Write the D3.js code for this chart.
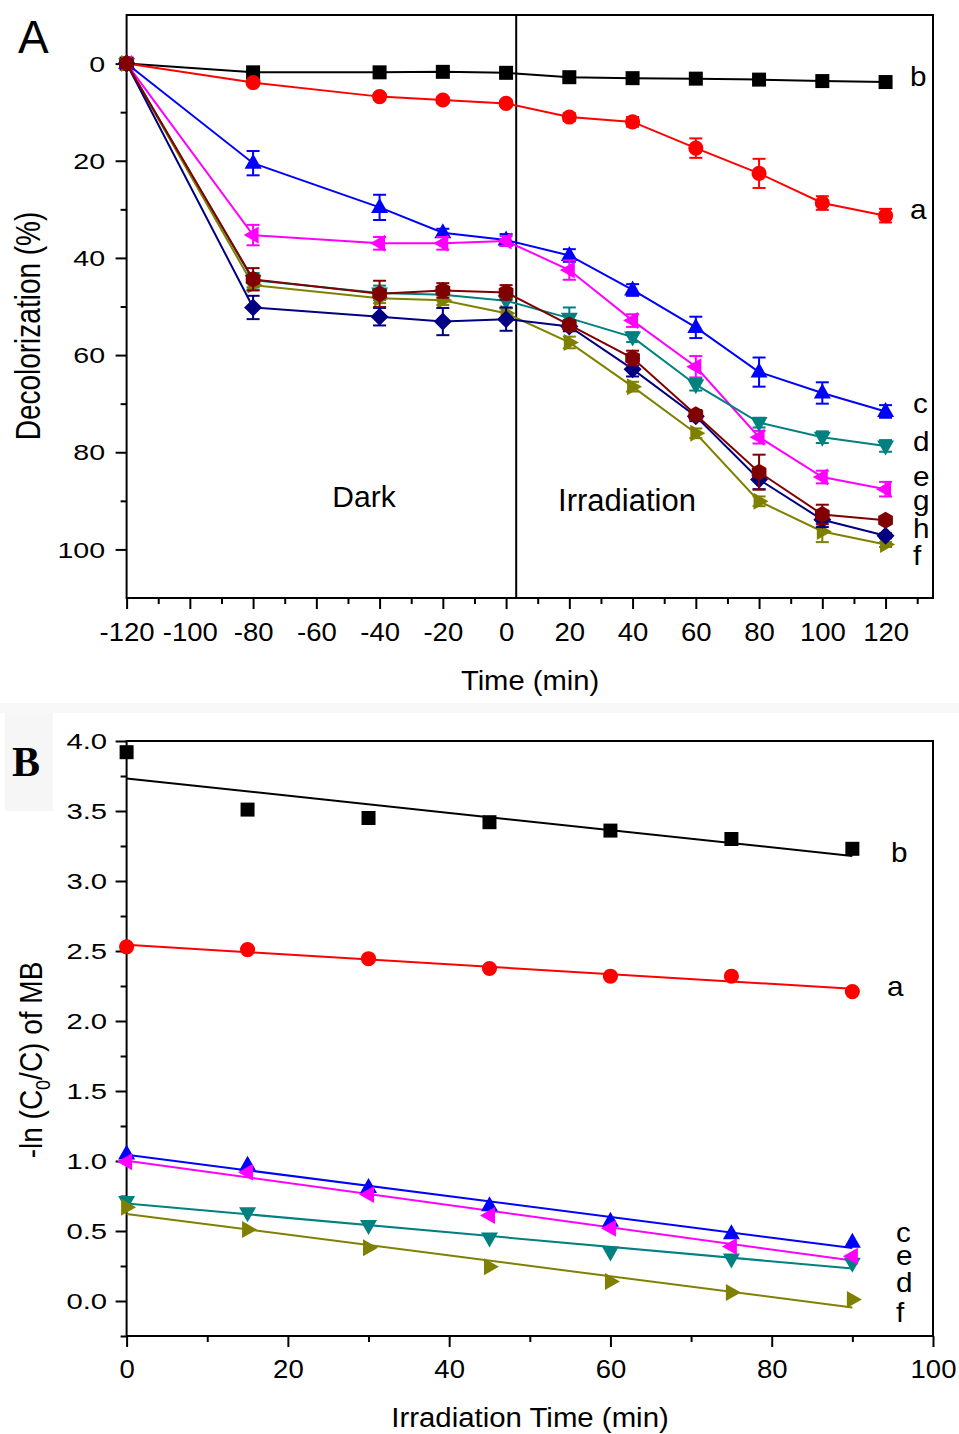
<!DOCTYPE html>
<html>
<head>
<meta charset="utf-8">
<script src="https://cdn.jsdelivr.net/npm/d3@7"></script>
<style>
  body { margin: 0; background: #fff; }
  svg { display: block; font-family: Arial, "Liberation Sans", sans-serif; }
</style>
</head>
<body>
<div id="chart"></div>
<script>
// ---- panel A: decolorization (%) against time (min)
var timeA = [-120, -80, -40, -20, 0, 20, 40, 60, 80, 100, 120];

var decolA = [0, 3.9, 6.8, 7.5, 8.2, 11.0, 12.0, 17.4, 22.6, 28.7, 31.3];
var decolB = [0, 1.8, 1.8, 1.7, 1.9, 2.8, 3.0, 3.1, 3.3, 3.6, 3.8];
var decolC = [0, 20.5, 29.6, 34.8, 36.3, 39.5, 46.6, 54.3, 63.5, 67.8, 71.6];
var decolD = [0, 44.6, 47.2, 47.6, 48.8, 52.4, 56.3, 66.1, 73.9, 76.9, 78.7];
var decolE = [0, 35.3, 37.0, 37.0, 36.5, 42.5, 52.9, 62.4, 76.9, 85.1, 87.6];
var decolF = [0, 45.6, 48.3, 48.7, 51.4, 57.4, 66.5, 76.1, 90.1, 96.3, 99.0];
var decolG = [0, 44.4, 47.4, 46.7, 47.1, 53.8, 60.6, 72.3, 84.1, 92.8, 94.0];
var decolH = [0, 50.2, 52.1, 53.1, 52.6, 54.1, 62.9, 72.6, 85.6, 93.9, 97.2];

// error bar half widths
var errA = [0, 0.6, 0.6, 0.6, 0.6, 0.8, 1.0, 2.0, 3.0, 1.4, 1.4];
var errB = [0, 0.3, 0.3, 0.3, 0.3, 0.3, 0.3, 0.3, 0.3, 0.3, 0.3];
var errC = [0, 2.5, 2.6, 0.8, 1.2, 1.3, 1.2, 2.2, 3.0, 2.2, 1.3];
var errD = [0, 1.5, 1.5, 1.2, 1.5, 2.2, 1.0, 1.2, 1.0, 1.2, 1.2];
var errE = [0, 2.1, 1.3, 1.3, 1.0, 2.0, 1.3, 2.2, 1.3, 1.3, 1.5];
var errF = [0, 1.0, 1.0, 1.0, 1.0, 1.2, 1.0, 1.0, 1.0, 2.2, 0.5];
var errG = [0, 2.3, 2.7, 1.5, 1.5, 1.0, 1.5, 1.0, 3.6, 2.0, 0.5];
var errH = [0, 2.4, 1.8, 2.8, 2.4, 1.0, 1.5, 1.0, 2.0, 1.5, 0.5];

var ticksXA = [-120, -100, -80, -60, -40, -20, 0, 20, 40, 60, 80, 100, 120];
var ticksYA = [0, 20, 40, 60, 80, 100];

// ---- panel B: -ln(C0/C) against irradiation time (min)
var timeB = [0, 15, 30, 45, 60, 75, 90];
var lnA = [2.53, 2.51, 2.445, 2.375, 2.32, 2.32, 2.21];
var lnB = [3.92, 3.51, 3.45, 3.42, 3.36, 3.30, 3.23];
var lnC = [1.05, 0.97, 0.81, 0.68, 0.57, 0.48, 0.42];
var lnD = [0.71, 0.63, 0.54, 0.45, 0.35, 0.30, 0.27];
var lnE = [0.995, 0.92, 0.76, 0.61, 0.52, 0.39, 0.32];
var lnF = [0.67, 0.51, 0.38, 0.245, 0.14, 0.06, 0.01];

var ticksXB = [0, 20, 40, 60, 80, 100];
var ticksYB = [0, 0.5, 1, 1.5, 2, 2.5, 3, 3.5, 4];

var W = 959, H = 1434;

var svg = d3.select("#chart").append("svg")
  .attr("width", W)
  .attr("height", H);

// marker shapes centred on 0,0
function hexagon(r) {
  var pts = d3.range(6).map(function(i) {
    var a = Math.PI / 6 + i * Math.PI / 3;
    return [r * Math.cos(a), r * Math.sin(a)];
  });
  return "M" + pts.join("L") + "Z";
}
var shapes = {
  square: "M-7,-7H7V7H-7Z",
  circle: d3.symbol(d3.symbolCircle, 180)(),
  up: "M0,-9.5L8.5,5.5L-8.5,5.5Z",
  down: "M0,9.5L8.5,-5.5L-8.5,-5.5Z",
  left: "M-9.5,0L5.5,-8.5L5.5,8.5Z",
  right: "M9.5,0L-5.5,-8.5L-5.5,8.5Z",
  diamond: "M0,-9L9,0L0,9L-9,0Z",
  hexagon: hexagon(8.5)
};

// text with a horizontal stretch, like the original figure
function label(g, x, y, str, size, sx, anchor) {
  return g.append("text")
    .attr("transform", "translate(" + x + "," + y + ") scale(" + sx + ",1)")
    .attr("font-size", size)
    .attr("text-anchor", anchor || "start")
    .attr("fill", "#000")
    .text(str);
}

function styleAxis(g, size, sx, off, horizontal) {
  g.select(".domain").remove();
  g.attr("font-family", null).attr("font-size", null);
  g.selectAll(".tick line").attr("stroke", "#000").attr("stroke-width", 2);
  var t = g.selectAll(".tick text")
    .attr("font-size", size)
    .attr("fill", "#000");
  if (horizontal) {
    t.attr("y", 0).attr("dy", "0.71em")
      .attr("transform", "translate(0," + off + ") scale(" + sx + ",1)");
  } else {
    t.attr("x", 0).attr("dy", "0.35em")
      .attr("transform", "translate(" + (-off) + ",0) scale(" + sx + ",1)");
  }
}

/* ================= PANEL A ================= */
var xA = d3.scaleLinear().domain([-120, 135]).range([126.6, 933]);
var yA = d3.scaleLinear().domain([-10, 110]).range([15, 598]);

var seriesA = [
  {key: "b", vals: decolB, err: errB, color: "#000000", shape: "square"},
  {key: "a", vals: decolA, err: errA, color: "#ff0000", shape: "circle"},
  {key: "c", vals: decolC, err: errC, color: "#0000ff", shape: "up"},
  {key: "e", vals: decolE, err: errE, color: "#ff00ff", shape: "left"},
  {key: "d", vals: decolD, err: errD, color: "#008080", shape: "down"},
  {key: "f", vals: decolF, err: errF, color: "#808000", shape: "right"},
  {key: "h", vals: decolH, err: errH, color: "#000080", shape: "diamond"},
  {key: "g", vals: decolG, err: errG, color: "#800000", shape: "hexagon"}
];

// axes
svg.append("g")
  .attr("transform", "translate(0,598)")
  .call(d3.axisBottom(xA).tickValues(d3.range(-110, 131, 20)).tickSize(6).tickFormat(""))
  .call(styleAxis, 25, 1.1, 25, true);
svg.append("g")
  .attr("transform", "translate(0,598)")
  .call(d3.axisBottom(xA).tickValues(ticksXA).tickSize(11).tickFormat(function(d) { return String(d); }))
  .call(styleAxis, 25, 1.1, 25, true);

svg.append("g")
  .attr("transform", "translate(126.6,0)")
  .call(d3.axisLeft(yA).tickValues(d3.range(10, 100, 20)).tickSize(6).tickFormat(""))
  .call(styleAxis, 22, 1.3, 21.5, false);
svg.append("g")
  .attr("transform", "translate(126.6,0)")
  .call(d3.axisLeft(yA).tickValues(ticksYA).tickSize(11).tickFormat(function(d) { return String(d); }))
  .call(styleAxis, 22, 1.3, 21.5, false);

// frame and dark / irradiation divider
svg.append("rect")
  .attr("x", xA(-120)).attr("y", yA(-10))
  .attr("width", xA(135) - xA(-120)).attr("height", yA(110) - yA(-10))
  .attr("fill", "none").attr("stroke", "#000").attr("stroke-width", 2);
svg.append("line")
  .attr("x1", xA(3.2)).attr("x2", xA(3.2))
  .attr("y1", yA(-10)).attr("y2", yA(110))
  .attr("stroke", "#000").attr("stroke-width", 2);

var lineA = d3.line()
  .x(function(d) { return xA(d[0]); })
  .y(function(d) { return yA(d[1]); });

seriesA.forEach(function(s) {
  var pts = timeA.map(function(t, i) { return [t, s.vals[i], s.err[i]]; });
  var g = svg.append("g").attr("class", "series-" + s.key);

  g.append("path")
    .attr("d", lineA(pts))
    .attr("fill", "none")
    .attr("stroke", s.color)
    .attr("stroke-width", 2);

  // error bars
  var eb = g.selectAll(".err").data(pts.filter(function(p) { return p[2] > 0; }))
    .enter().append("g").attr("class", "err")
    .attr("stroke", s.color).attr("stroke-width", 2);
  eb.append("line")
    .attr("x1", function(d) { return xA(d[0]); })
    .attr("x2", function(d) { return xA(d[0]); })
    .attr("y1", function(d) { return yA(d[1] - d[2]); })
    .attr("y2", function(d) { return yA(d[1] + d[2]); });
  [-1, 1].forEach(function(sign) {
    eb.append("line")
      .attr("x1", function(d) { return xA(d[0]) - 6.5; })
      .attr("x2", function(d) { return xA(d[0]) + 6.5; })
      .attr("y1", function(d) { return yA(d[1] + sign * d[2]); })
      .attr("y2", function(d) { return yA(d[1] + sign * d[2]); });
  });

  g.selectAll(".mk").data(pts).enter().append("path")
    .attr("class", "mk")
    .attr("d", shapes[s.shape])
    .attr("transform", function(d) { return "translate(" + xA(d[0]) + "," + yA(d[1]) + ")"; })
    .attr("fill", s.color);
});

// texts of panel A
label(svg, 18, 53, "A", 46, 1.0);
label(svg, 364, 507, "Dark", 30, 1.0, "middle");
label(svg, 627, 511, "Irradiation", 31, 1.0, "middle");
label(svg, 530, 690, "Time (min)", 27, 1.08, "middle");
svg.append("text")
  .attr("transform", "translate(40,326) scale(1.22,1) rotate(-90)")
  .attr("font-size", 28)
  .attr("text-anchor", "middle")
  .text("Decolorization (%)");

var tagsA = [["b", 910, 86], ["a", 910, 219], ["c", 913, 413], ["d", 913, 451],
             ["e", 913, 486], ["g", 913, 510], ["h", 913, 538], ["f", 913, 565]];
tagsA.forEach(function(t) { label(svg, t[1], t[2], t[0], 27, 1.1); });

/* ================= PANEL B ================= */
// faint backdrop of the pasted "B" panel
svg.append("rect").attr("x", 0).attr("y", 703).attr("width", W).attr("height", 10).attr("fill", "#f8f8f8");
svg.append("rect").attr("x", 5).attr("y", 713).attr("width", 48).attr("height", 98).attr("fill", "#f6f6f6");

var xB = d3.scaleLinear().domain([0, 100]).range([126.6, 933]);
var yB = d3.scaleLinear().domain([-0.25, 4]).range([1336, 741]);

var seriesB = [
  {key: "b", vals: lnB, color: "#000000", shape: "square"},
  {key: "a", vals: lnA, color: "#ff0000", shape: "circle"},
  {key: "d", vals: lnD, color: "#008080", shape: "down"},
  {key: "f", vals: lnF, color: "#808000", shape: "right"},
  {key: "c", vals: lnC, color: "#0000ff", shape: "up"},
  {key: "e", vals: lnE, color: "#ff00ff", shape: "left"}
];

svg.append("g")
  .attr("transform", "translate(0,1336)")
  .call(d3.axisBottom(xB).tickValues(d3.range(10, 100, 20)).tickSize(6).tickFormat(""))
  .call(styleAxis, 25, 1.1, 24, true);
svg.append("g")
  .attr("transform", "translate(0,1336)")
  .call(d3.axisBottom(xB).tickValues(ticksXB).tickSize(11).tickFormat(function(d) { return String(d); }))
  .call(styleAxis, 25, 1.1, 24, true);
svg.append("g")
  .attr("transform", "translate(126.6,0)")
  .call(d3.axisLeft(yB).tickValues(d3.range(-0.25, 4, 0.5)).tickSize(6).tickFormat(""))
  .call(styleAxis, 22, 1.33, 19.5, false);
svg.append("g")
  .attr("transform", "translate(126.6,0)")
  .call(d3.axisLeft(yB).tickValues(ticksYB).tickSize(11).tickFormat(function(d) { return d.toFixed(1); }))
  .call(styleAxis, 22, 1.33, 19.5, false);

svg.append("rect")
  .attr("x", xB(0)).attr("y", yB(4))
  .attr("width", xB(100) - xB(0)).attr("height", yB(-0.25) - yB(4))
  .attr("fill", "none").attr("stroke", "#000").attr("stroke-width", 2);

// least squares line through each series
function fitEnds(xs, ys) {
  var mx = d3.mean(xs), my = d3.mean(ys);
  var sxy = d3.sum(xs, function(x, i) { return (x - mx) * (ys[i] - my); });
  var sxx = d3.sum(xs, function(x) { return (x - mx) * (x - mx); });
  var k = sxy / sxx;
  var x0 = d3.min(xs), x1 = d3.max(xs);
  return [[x0, my + k * (x0 - mx)], [x1, my + k * (x1 - mx)]];
}

var lineB = d3.line()
  .x(function(d) { return xB(d[0]); })
  .y(function(d) { return yB(d[1]); });

seriesB.forEach(function(s) {
  var g = svg.append("g").attr("class", "fit-" + s.key);
  g.append("path")
    .attr("d", lineB(fitEnds(timeB, s.vals)))
    .attr("fill", "none")
    .attr("stroke", s.color)
    .attr("stroke-width", 2);
});
seriesB.forEach(function(s) {
  var pts = timeB.map(function(t, i) { return [t, s.vals[i]]; });
  svg.append("g").selectAll("path").data(pts).enter().append("path")
    .attr("d", shapes[s.shape])
    .attr("transform", function(d) { return "translate(" + xB(d[0]) + "," + yB(d[1]) + ")"; })
    .attr("fill", s.color);
});

// texts of panel B
svg.append("text")
  .attr("x", 12).attr("y", 776)
  .attr("font-family", "'Liberation Serif', 'Times New Roman', serif")
  .attr("font-weight", "bold")
  .attr("font-size", 42)
  .text("B");

label(svg, 530, 1427, "Irradiation Time (min)", 28, 1.05, "middle");

var yt = svg.append("text")
  .attr("transform", "translate(42,1060) scale(1.1,1) rotate(-90)")
  .attr("font-size", 28)
  .attr("text-anchor", "middle");
yt.append("tspan").text("-ln (C");
yt.append("tspan").attr("font-size", 18).attr("dy", 7).text("0");
yt.append("tspan").attr("dy", -7).text("/C) of MB");

var tagsB = [["b", 891, 862], ["a", 887, 996], ["c", 896, 1242], ["e", 896, 1265],
             ["d", 896, 1292], ["f", 896, 1322]];
tagsB.forEach(function(t) { label(svg, t[1], t[2], t[0], 27, 1.1); });
</script>
</body>
</html>
